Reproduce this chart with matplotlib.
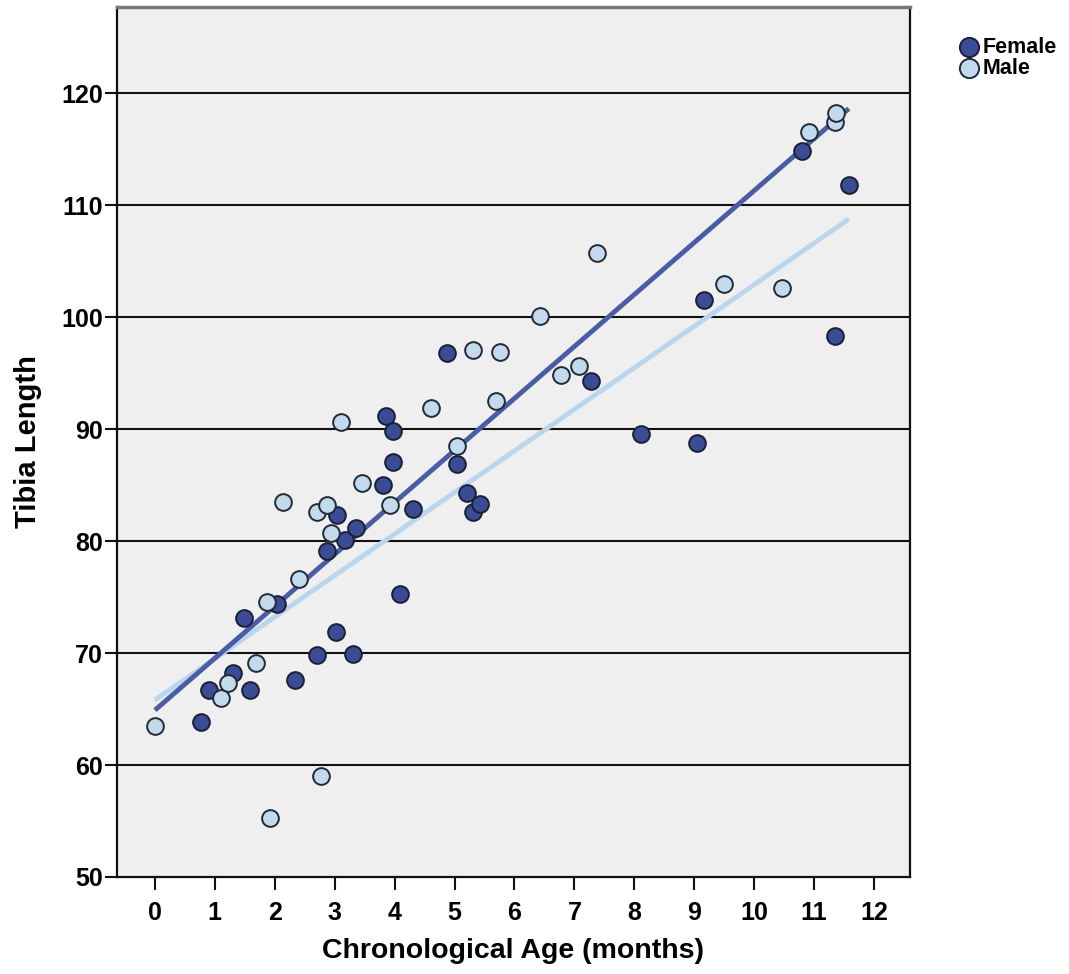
############################################################
# Tibia length vs chronological age, split by sex
############################################################

import numpy as np
import matplotlib.pyplot as plt

# ==========================================================
# Data
# ==========================================================

female_age = [0.77, 0.90, 1.30, 1.49, 1.59, 2.03, 2.34, 2.70, 2.87, 3.03,
              3.04, 3.18, 3.30, 3.36, 3.80, 3.86, 3.98, 3.98, 4.09, 4.31,
              4.87, 5.04, 5.21, 5.30, 5.43, 7.27, 8.12, 9.05, 9.17, 10.80,
              11.35, 11.58]
female_tibia = [63.8, 66.7, 68.2, 73.1, 66.7, 74.4, 67.6, 69.8, 79.1, 71.9,
                82.3, 80.1, 69.9, 81.2, 85.0, 91.2, 89.8, 87.1, 75.3, 82.9,
                96.8, 86.9, 84.3, 82.6, 83.3, 94.3, 89.6, 88.8, 101.5, 114.8,
                98.3, 111.8]

male_age = [0.00, 1.10, 1.22, 1.69, 1.87, 1.92, 2.14, 2.41, 2.70, 2.77,
            2.87, 2.93, 3.10, 3.46, 3.92, 4.61, 5.04, 5.30, 5.70, 5.76,
            6.42, 6.78, 7.08, 7.37, 9.50, 10.46, 10.91, 11.35, 11.37]
male_tibia = [63.5, 66.0, 67.3, 69.1, 74.6, 55.3, 83.5, 76.6, 82.6, 59.0,
              83.2, 80.7, 90.6, 85.2, 83.2, 91.9, 88.5, 97.1, 92.5, 96.9,
              100.1, 94.8, 95.6, 105.7, 103.0, 102.6, 116.5, 117.4, 118.2]

# fit lines (intercept, slope) as drawn in the chart
female_fit = (64.9, 4.64)
male_fit = (65.8, 3.71)
fit_range = [0.0, 11.58]

x_ticks = list(range(0, 13))
y_ticks = list(range(50, 121, 10))

# ==========================================================
# Styling
# ==========================================================

plt.rcParams["font.family"] = ["Liberation Sans", "DejaVu Sans"]
plt.rcParams["font.weight"] = "bold"

dark_fill = "#3b4c97"
light_fill = "#c3d9ec"
dark_line = "#4a5ca3"
light_line = "#b9d6ee"

# ==========================================================
# Plot
# ==========================================================

fig = plt.figure(figsize=(10.69, 9.74), dpi=100)
ax = fig.add_axes([0.1094, 0.0996, 0.7418, 0.8932])
ax.set_facecolor("#efefef")

for y in y_ticks[1:]:
    ax.axhline(y, color="#111111", linewidth=1.5, zorder=1)

xs = np.array(fit_range)
ax.plot(xs, male_fit[0] + male_fit[1] * xs, color=light_line,
        linewidth=3.5, zorder=2, solid_capstyle="butt")
ax.plot(xs, female_fit[0] + female_fit[1] * xs, color=dark_line,
        linewidth=3.5, zorder=2, solid_capstyle="butt")

ax.scatter(female_age, female_tibia, s=145, color=dark_fill,
           edgecolor="#1a1f33", linewidth=1.4, zorder=3, label="Female")
ax.scatter(male_age, male_tibia, s=145, color=light_fill,
           edgecolor="#1f2a35", linewidth=1.4, zorder=3, label="Male")

ax.set_xlim(-0.634, 12.6)
ax.set_ylim(50, 127.7)
ax.set_xticks(x_ticks)
ax.set_yticks(y_ticks)
ax.tick_params(axis="both", direction="out", length=9, width=1.5,
               labelsize=18, color="#111111")
ax.tick_params(axis="x", pad=8)
ax.tick_params(axis="y", pad=1)
for lab in ax.get_xticklabels() + ax.get_yticklabels():
    lab.set_fontweight("bold")

for side in ["left", "right", "bottom"]:
    ax.spines[side].set_color("#111111")
    ax.spines[side].set_linewidth(1.6)
ax.spines["top"].set_color("#777777")
ax.spines["top"].set_linewidth(2.5)

ax.set_xlabel("Chronological Age (months)", fontsize=20.5,
              fontweight="bold", labelpad=10)
ax.set_ylabel("Tibia Length", fontsize=21, fontweight="bold", labelpad=14)

fig.legend(loc="upper left", bbox_to_anchor=(0.876, 0.973), frameon=False,
           handletextpad=-0.35, labelspacing=0.0, borderpad=0.0,
           markerscale=1.15, prop={"weight": "bold", "size": 15.5})

fig.savefig("out.png", dpi=100)
